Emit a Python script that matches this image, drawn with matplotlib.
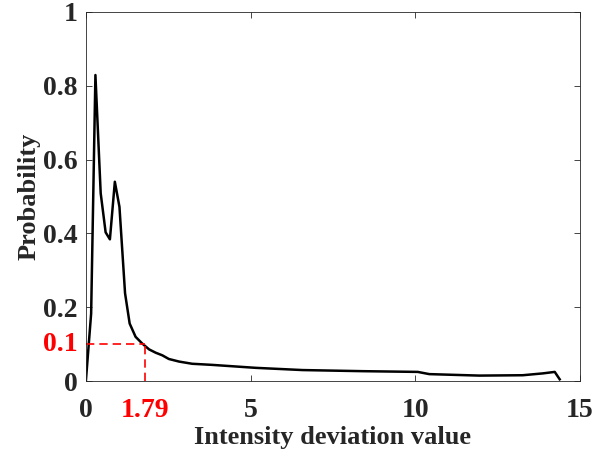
import matplotlib
matplotlib.use("Agg")
import matplotlib.pyplot as plt
import matplotlib.transforms as mtransforms

# data
deviation = [0.0, 0.16, 0.29, 0.45, 0.60, 0.73, 0.88, 1.02, 1.19, 1.33, 1.51, 1.71,
             1.92, 2.12, 2.32, 2.52, 2.83, 3.23, 3.44, 3.84, 5.16, 6.58, 8.4,
             10.08, 10.43, 11.95, 13.27, 13.88, 14.24, 14.39]
probability = [0.0, 0.183, 0.829, 0.509, 0.403, 0.384, 0.54, 0.472, 0.238, 0.156, 0.12, 0.102,
               0.086, 0.077, 0.07, 0.06, 0.053, 0.047, 0.046, 0.044, 0.036, 0.030, 0.027,
               0.025, 0.019, 0.015, 0.016, 0.021, 0.025, 0.005]
x_ticks = [0, 5, 10, 15]
y_ticks = [0, 0.2, 0.4, 0.6, 0.8, 1]
y_tick_labels = ["0", "0.2", "0.4", "0.6", "0.8", "1"]
mark_x = 1.79
mark_y = 0.1

plt.rcParams['font.family'] = ['Liberation Serif', 'DejaVu Serif']
plt.rcParams['font.weight'] = 'bold'

fig = plt.figure(figsize=(6.09, 4.57), dpi=100)
ax = fig.add_axes([0.141, 0.166, 0.811, 0.808])

ax.plot(deviation, probability, color='black', lw=1.8)
ax.plot([0, mark_x], [mark_y, mark_y], color='red', ls='--', lw=1.2, dashes=(5, 3))
ax.plot([mark_x, mark_x], [0, mark_y], color='red', ls='--', lw=1.2, dashes=(5, 3))

ax.set_xlim(0, 15)
ax.set_ylim(0, 1)
ax.set_xticks(x_ticks)
ax.set_yticks(y_ticks)
ax.set_yticklabels(y_tick_labels)
ax.tick_params(direction='in', length=4, width=0.6, colors='#262626',
               labelsize=20, labelcolor='#262626', top=True, right=True)
ax.tick_params(axis='x', pad=12)
ax.tick_params(axis='y', pad=6)
for lab in ax.get_xticklabels() + ax.get_yticklabels():
    lab.set_fontweight('bold')
for sp in ax.spines.values():
    sp.set_color('#262626')
    sp.set_linewidth(0.6)

# red marker labels on the axes
tx = mtransforms.blended_transform_factory(ax.transData, ax.transAxes)
ax.text(mark_x, -0.045, "1.79", transform=tx, color='red', fontsize=20,
        fontweight='bold', ha='center', va='top')
ty = mtransforms.blended_transform_factory(ax.transAxes, ax.transData)
ax.text(-0.017, mark_y, "0.1", transform=ty, color='red', fontsize=20,
        fontweight='bold', ha='right', va='center')

ax.set_xlabel("Intensity deviation value", fontsize=19, fontweight='bold',
              color='#262626', labelpad=2)
ax.set_ylabel("Probability", fontsize=19, fontweight='bold', color='#262626',
              labelpad=2)

fig.savefig("out.png", dpi=100)
